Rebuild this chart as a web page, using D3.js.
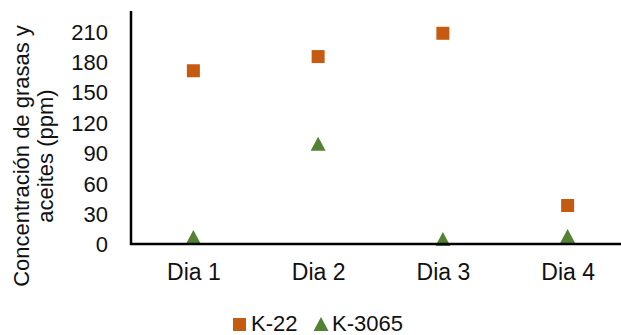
<!DOCTYPE html>
<html>
<head>
<meta charset="utf-8">
<script src="https://cdn.jsdelivr.net/npm/d3@7"></script>
<style>
  html, body { margin: 0; padding: 0; background: #fff; }
  svg { display: block; }
  text { font-family: "Liberation Sans", Arial, sans-serif; fill: #111; }
</style>
</head>
<body>
<svg id="chart" width="621" height="335"></svg>
<script>
// Grease & oil concentration per day for two samples
const days = ["Dia 1", "Dia 2", "Dia 3", "Dia 4"];
const k22 = [171, 185, 208, 38];
const k3065 = [7, 99, 5, 8];
const yTicks = [0, 30, 60, 90, 120, 150, 180, 210];
const seriesNames = ["K-22", "K-3065"];
const seriesColors = ["#C55A11", "#548235"];

const svg = d3.select("#chart");
const plot = { left: 131, right: 630, top: 11, bottom: 244 };

const x = d3.scalePoint().domain(days).range([plot.left, plot.right]).padding(0.5);
const y = d3.scaleLinear().domain([0, 230]).range([plot.bottom, plot.top]);

// triangle centred on its bounding box
const tri = (w, h) => `M0,${-h / 2}L${w / 2},${h / 2}L${-w / 2},${h / 2}Z`;

// K-22 squares
svg.append("g").selectAll("rect").data(days.map((d, i) => ({ d, v: k22[i] })))
  .join("rect")
  .attr("x", p => x(p.d) - 6.5).attr("y", p => y(p.v) - 6.5)
  .attr("width", 13).attr("height", 13)
  .attr("fill", seriesColors[0]);

// K-3065 triangles
svg.append("g").selectAll("path").data(days.map((d, i) => ({ d, v: k3065[i] })))
  .join("path")
  .attr("transform", p => `translate(${x(p.d)},${y(p.v)})`)
  .attr("d", tri(15, 14))
  .attr("fill", seriesColors[1]);

// y axis
const yAxis = svg.append("g").attr("transform", `translate(${plot.left},0)`)
  .call(d3.axisLeft(y).tickValues(yTicks).tickSize(0).tickPadding(23));
yAxis.select(".domain").remove();
yAxis.selectAll("text").style("font-size", "22px").attr("dy", "0.36em");

// x axis labels
const xAxis = svg.append("g").attr("transform", `translate(0,${plot.bottom})`)
  .call(d3.axisBottom(x).tickSize(0).tickPadding(20));
xAxis.select(".domain").remove();
xAxis.selectAll("text").style("font-size", "23px");

// axis lines
svg.append("path")
  .attr("d", `M${plot.left},${plot.top}V${plot.bottom}H621`)
  .attr("fill", "none").attr("stroke", "#000").attr("stroke-width", 2.5);

// y axis title
const title = svg.append("text")
  .attr("transform", "translate(0,156) rotate(-90)")
  .attr("text-anchor", "middle")
  .style("font-size", "22px");
title.append("tspan").attr("x", 0).attr("y", 29).text("Concentración de grasas y");
title.append("tspan").attr("x", 0).attr("y", 53).text("aceites (ppm)");

// legend
const legend = svg.append("g");
legend.append("rect").attr("x", 233).attr("y", 318).attr("width", 13).attr("height", 13)
  .attr("fill", seriesColors[0]);
legend.append("text").attr("x", 251).attr("y", 331).style("font-size", "22px").text(seriesNames[0]);
legend.append("path").attr("transform", "translate(321,324)").attr("d", tri(15, 14))
  .attr("fill", seriesColors[1]);
legend.append("text").attr("x", 332).attr("y", 331).style("font-size", "22px").text(seriesNames[1]);
</script>
</body>
</html>
